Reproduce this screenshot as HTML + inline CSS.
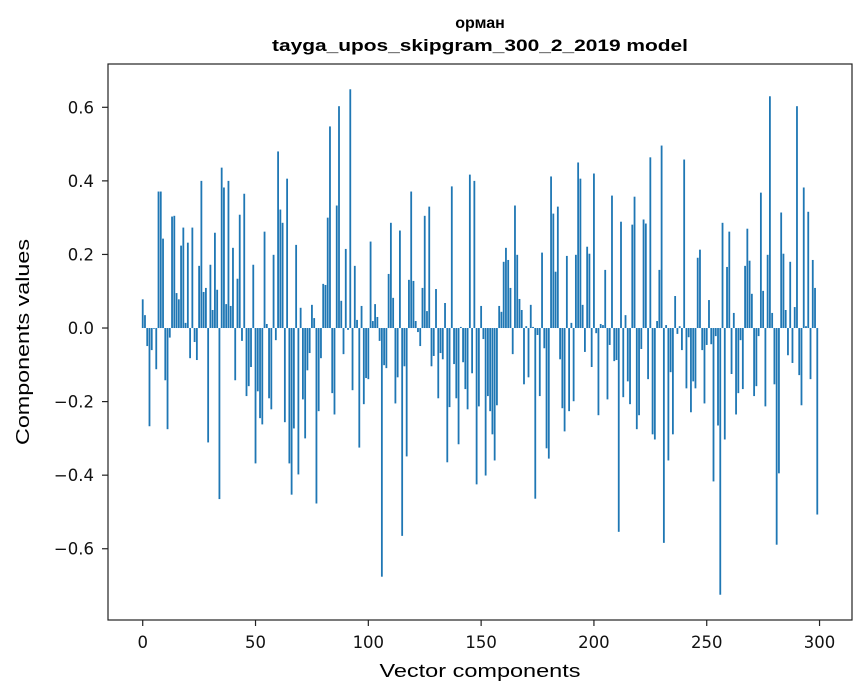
<!DOCTYPE html>
<html><head><meta charset="utf-8"><style>
body{margin:0;background:#fff;}
svg{display:block;font-family:"DejaVu Sans","Liberation Sans",sans-serif;}
.ttl{font-family:"Liberation Sans","DejaVu Sans",sans-serif;}
</style></head><body>
<svg id="chart" width="867" height="696" viewBox="0 0 867 696">
<text class="ttl" x="480" y="28" text-anchor="middle" font-size="16" font-weight="bold">орман</text>
<text class="ttl" x="480" y="51" text-anchor="middle" font-size="16.5" font-weight="bold" textLength="416" lengthAdjust="spacingAndGlyphs">tayga_upos_skipgram_300_2_2019 model</text>
<g id="bars"></g>
<g id="axes"></g>
<text class="ttl" x="480" y="677" text-anchor="middle" font-size="18" textLength="201" lengthAdjust="spacingAndGlyphs">Vector components</text>
<text class="ttl" transform="translate(29,342) rotate(-90)" text-anchor="middle" font-size="18" textLength="206" lengthAdjust="spacingAndGlyphs">Components values</text>
</svg>
<script>
const values = [
0.078,0.035,-0.049,-0.267,-0.06,-0.002,-0.112,0.371,0.371,0.243,
-0.142,-0.275,-0.026,0.303,0.305,0.095,0.078,0.224,0.273,0.014,
0.232,-0.082,0.273,-0.038,-0.087,0.169,0.40,0.098,0.109,-0.311,
0.172,0.049,0.259,0.104,-0.465,0.436,0.382,0.065,0.40,0.06,
0.218,-0.142,0.134,0.308,-0.035,0.365,-0.185,-0.158,-0.106,0.172,
-0.368,-0.172,-0.245,-0.262,0.262,0.011,-0.191,-0.221,0.199,-0.033,
0.48,0.322,0.286,-0.256,0.406,-0.368,-0.453,-0.273,0.226,-0.398,
0.055,-0.194,-0.30,-0.115,-0.068,0.063,0.027,-0.477,-0.226,-0.082,
0.12,0.117,0.30,0.548,-0.177,-0.235,0.333,0.603,0.074,-0.071,
0.215,-0.005,0.649,-0.169,0.169,0.022,-0.325,0.06,-0.207,-0.136,
-0.139,0.235,0.019,0.065,0.03,-0.035,-0.676,-0.101,-0.109,0.147,
0.286,0.082,-0.205,-0.134,0.265,-0.565,-0.104,-0.349,0.131,0.371,
0.128,0.019,-0.011,-0.049,0.109,0.305,0.046,0.33,-0.104,-0.076,
0.106,-0.191,-0.068,-0.085,0.068,-0.365,-0.215,0.385,-0.098,-0.191,
-0.316,0.003,-0.093,-0.166,-0.221,0.417,-0.123,0.40,-0.425,-0.213,
0.06,-0.03,-0.401,-0.185,-0.226,-0.289,-0.36,-0.21,0.06,0.044,
0.18,0.218,0.185,0.109,-0.071,0.333,0.199,0.079,0.049,-0.153,
0.005,-0.134,0.063,0.003,-0.464,-0.019,-0.185,0.205,-0.055,-0.327,
-0.355,0.412,0.311,0.153,0.33,-0.085,-0.218,-0.281,0.196,-0.226,
0.014,-0.199,0.199,0.45,0.406,0.063,-0.065,0.221,0.202,-0.106,
0.42,-0.014,-0.237,0.011,0.008,0.158,-0.194,-0.046,0.36,-0.09,
-0.087,-0.554,0.289,-0.188,0.035,-0.145,-0.207,0.281,0.357,-0.275,
-0.237,-0.057,0.295,0.284,-0.139,0.464,-0.289,-0.303,0.019,0.158,
0.496,-0.584,0.008,-0.36,-0.12,-0.289,0.087,-0.016,0.005,-0.06,
0.458,-0.164,-0.025,-0.229,-0.145,-0.164,0.191,0.213,-0.06,-0.205,
-0.046,0.076,-0.044,-0.417,-0.022,-0.265,-0.725,0.286,-0.303,0.166,
0.262,-0.125,0.041,-0.235,-0.177,-0.033,-0.166,0.169,0.27,0.183,
0.093,-0.185,-0.158,-0.022,0.368,0.101,-0.213,0.199,0.63,0.041,
-0.153,-0.589,-0.395,0.314,0.202,0.049,-0.074,0.18,-0.095,0.057,
0.603,-0.128,-0.21,0.382,0.005,0.316,-0.139,0.185,0.109,-0.507
];
const xTicks = [0,50,100,150,200,250,300];
const yTicks = [-0.6,-0.4,-0.2,0.0,0.2,0.4,0.6];
const yTickLabels = ["\u22120.6","\u22120.4","\u22120.2","0.0","0.2","0.4","0.6"];

const NS = "http://www.w3.org/2000/svg";
const L = 108, R = 852, T = 64, B = 620;
const n = values.length;
const xMinD = -0.4, xMaxD = n - 1 + 0.4, xm = (xMaxD - xMinD) * 0.05;
const x0 = xMinD - xm, x1 = xMaxD + xm;
let vmin = Math.min(0, ...values), vmax = Math.max(0, ...values);
const ym = (vmax - vmin) * 0.05;
const y0 = vmin - ym, y1 = vmax + ym;
function sx(v){ return L + (v - x0) / (x1 - x0) * (R - L); }
function sy(v){ return B - (v - y0) / (y1 - y0) * (B - T); }

const bars = document.getElementById('bars');
values.forEach((v, i) => {
  const r = document.createElementNS(NS, 'rect');
  const a = sx(i - 0.4), b = sx(i + 0.4);
  const ya = sy(Math.max(v, 0)), yb = sy(Math.min(v, 0));
  r.setAttribute('x', a); r.setAttribute('width', b - a);
  r.setAttribute('y', ya); r.setAttribute('height', Math.max(yb - ya, 0.3));
  r.setAttribute('fill', '#1f77b4');
  
  
  bars.appendChild(r);
});

const axes = document.getElementById('axes');
const frame = document.createElementNS(NS, 'rect');
frame.setAttribute('x', L); frame.setAttribute('y', T);
frame.setAttribute('width', R - L); frame.setAttribute('height', B - T);
frame.setAttribute('fill', 'none'); frame.setAttribute('stroke', '#222'); frame.setAttribute('stroke-width', '1.2');


axes.appendChild(frame);

xTicks.forEach(t => {
  const x = sx(t);
  const l = document.createElementNS(NS, 'line');
  l.setAttribute('x1', x); l.setAttribute('x2', x); l.setAttribute('y1', B); l.setAttribute('y2', B + 6);
  l.setAttribute('stroke', '#222'); l.setAttribute('stroke-width', '1.2');
  
  
  axes.appendChild(l);
  const tx = document.createElementNS(NS, 'text');
  tx.setAttribute('x', x); tx.setAttribute('y', B + 28); tx.setAttribute('text-anchor', 'middle'); tx.setAttribute('font-size', '16.5');
  tx.setAttribute('fill', '#111');
  tx.textContent = String(t);
  
  
  axes.appendChild(tx);
});
yTicks.forEach((t, k) => {
  const y = sy(t);
  const l = document.createElementNS(NS, 'line');
  l.setAttribute('x1', L - 6); l.setAttribute('x2', L); l.setAttribute('y1', y); l.setAttribute('y2', y);
  l.setAttribute('stroke', '#222'); l.setAttribute('stroke-width', '1.2');
  
  
  axes.appendChild(l);
  const tx = document.createElementNS(NS, 'text');
  tx.setAttribute('x', L - 14); tx.setAttribute('y', y + 6); tx.setAttribute('text-anchor', 'end'); tx.setAttribute('font-size', '16.5');
  tx.setAttribute('fill', '#111');
  tx.textContent = yTickLabels[k];
  
  
  axes.appendChild(tx);
});
</script>
</body></html>
